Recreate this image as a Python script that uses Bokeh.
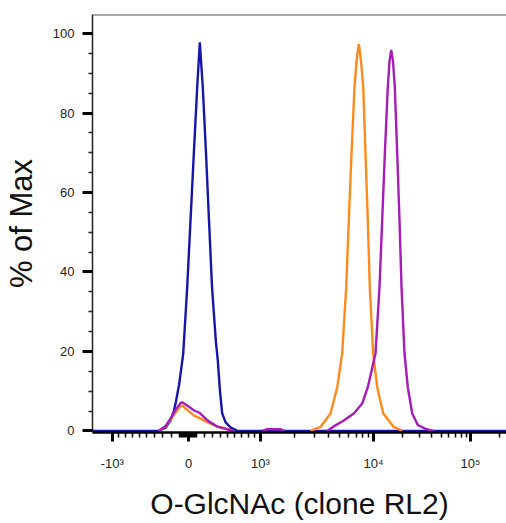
import numpy as np
from bokeh.plotting import figure
from bokeh.models import FixedTicker, Range1d, Span
from bokeh.embed import file_html
from bokeh.resources import INLINE

# ---------------- data (x in display channels of the biexponential axis, y in % of max) -------------
blue_ch = [0, 161.7, 178.8, 191.1, 199.2, 203.3, 211.9, 222.2, 232.0, 240.1, 248.2, 256.5, 262.9,
           270.2, 278.1, 285.4, 292.8, 302.6, 307.0, 312.3, 317.7, 325.8, 338.1, 354.5, 1024]
blue_pct = [0, 0, 0.8, 2.6, 5.0, 6.8, 11.5, 19.4, 36.2, 53.0, 69.8, 86.5, 97.8,
            86.5, 69.8, 53.0, 36.2, 22.0, 17.7, 10.0, 4.4, 2.2, 0.9, 0, 0]

orange_low_ch = [161.7, 178.8, 191.1, 207.5, 215.6, 219.7, 232.0, 248.2, 264.6, 281.0, 305.5, 330.0, 342.2]
orange_low_pct = [0, 1.2, 2.8, 5.2, 6.2, 6.4, 5.3, 3.9, 3.1, 2.2, 1.1, 0.5, 0]
orange_ch = [534.1, 558.6, 583.1, 599.5, 611.7, 621.5, 627.9, 634.5, 641.8, 646.7, 652.4, 657.8,
             663.2, 668.8, 674.4, 679.3, 687.6, 697.5, 712.2, 738.1, 758.7]
orange_pct = [0, 1.0, 4.4, 11.0, 19.5, 36.2, 53.0, 69.7, 86.5, 93.0, 97.4, 93.0,
              86.5, 69.7, 53.0, 36.2, 19.5, 11.0, 4.4, 1.0, 0]

purple_low_ch = [161.7, 178.8, 191.1, 203.3, 215.6, 219.7, 232.0, 248.2, 262.9, 272.7, 284.9, 305.5, 330.0, 345.4]
purple_low_pct = [0, 1.2, 3.1, 5.3, 7.0, 7.2, 6.4, 5.2, 4.5, 3.5, 2.4, 1.1, 0.4, 0]
purple_blip_ch = [416.5, 426.3, 460.6, 470.4]
purple_blip_pct = [0, 0.4, 0.4, 0]
purple_ch = [575.0, 595.3, 615.6, 640.1, 660.7, 674.4, 693.3, 703.1, 709.7, 716.1, 723.4, 727.6, 731.8,
             736.2, 740.6, 746.5, 752.1, 757.0, 764.3, 772.4, 783.2, 796.9, 815.8, 835.4]
purple_pct = [0, 1.4, 2.6, 4.4, 6.9, 11.0, 19.5, 36.2, 53.0, 69.7, 86.5, 93.0, 95.9,
              93.0, 86.5, 69.7, 53.0, 36.2, 19.5, 11.0, 4.4, 1.5, 0.5, 0]

y_major = [0, 20, 40, 60, 80, 100]
y_minor = [5, 10, 15, 25, 30, 35, 45, 50, 55, 65, 70, 75, 85, 90, 95]

x_major_values = [-1000, 0, 1000, 10000, 100000]
x_major_labels = ["-10\u00b3", "0", "10\u00b3", "10\u2074", "10\u2075"]
x_minor_values = ([-v for v in range(900, 0, -100)] + [-v for v in range(90, 0, -10)]
                  + list(range(10, 100, 10)) + list(range(100, 1000, 100))
                  + list(range(2000, 10000, 1000)) + list(range(20000, 100000, 10000)) + [200000])

x_title = "O-GlcNAc (clone RL2)"
y_title = "% of Max"

# ---------------- biexponential display transform (value -> channel) ----------------
ZERO_CH = 235.2
LIN_POS_CH = 176.4
LIN_NEG_CH = 186.9
DECADE_EXP = [3, 4, 5, 6]
DECADE_CH = [411.6, 688.4, 926.0, 1163.6]


def to_channel(v):
    v = float(v)
    if abs(v) <= 1000:
        f = np.arcsinh(abs(v) / 1000.0) / np.arcsinh(1.0)
        return round(ZERO_CH + (LIN_POS_CH if v >= 0 else -LIN_NEG_CH) * f, 3)
    if v > 0:
        return round(float(np.interp(np.log10(v), DECADE_EXP, DECADE_CH)), 3)
    return round(ZERO_CH - LIN_NEG_CH - (DECADE_CH[1] - DECADE_CH[0]) * np.log10(-v / 1000.0), 3)


major_ch = [to_channel(v) for v in x_major_values]
minor_ch = [to_channel(v) for v in x_minor_values]

FONT = "Liberation Sans"
Y0, Y1 = -0.4, 104.8

p = figure(width=506, height=523, output_backend="svg", toolbar_location=None,
           x_range=Range1d(0, 1014.2), y_range=Range1d(Y0, Y1),
           min_border_left=92, min_border_right=0, min_border_top=14, min_border_bottom=91)
p.outline_line_color = None
p.xgrid.visible = False
p.ygrid.visible = False
p.background_fill_color = "white"

lw = 2.4
p.line(blue_ch, blue_pct, line_color="#1515A8", line_width=lw)
p.line(orange_low_ch, orange_low_pct, line_color="#FF8A1C", line_width=lw)
p.line(orange_ch, orange_pct, line_color="#FF8A1C", line_width=lw)
p.line(purple_low_ch, purple_low_pct, line_color="#A51DB6", line_width=lw)
p.line(purple_blip_ch, purple_blip_pct, line_color="#A51DB6", line_width=lw)
p.line(purple_ch, purple_pct, line_color="#A51DB6", line_width=lw)

# top frame line
p.add_layout(Span(location=Y1, dimension="width", line_color="#555555", line_width=2))

# y axis
ya = p.yaxis[0]
ya.ticker = FixedTicker(ticks=y_major, minor_ticks=y_minor)
ya.axis_line_color = "#222222"
ya.axis_line_width = 1.5
ya.major_tick_out = 10
ya.major_tick_in = 0
ya.major_tick_line_width = 3
ya.major_tick_line_color = "black"
ya.minor_tick_out = 4
ya.minor_tick_in = 0
ya.minor_tick_line_width = 1.5
ya.minor_tick_line_color = "#222222"
ya.major_label_text_font = FONT
ya.major_label_text_font_size = "13px"
ya.major_label_text_color = "#222222"
ya.major_label_standoff = 8
ya.axis_label = y_title
ya.axis_label_text_font = FONT
ya.axis_label_text_font_size = "31px"
ya.axis_label_text_font_style = "normal"
ya.axis_label_text_color = "#111111"
ya.axis_label_standoff = 11

# x axis
xa = p.xaxis[0]
xa.ticker = FixedTicker(ticks=major_ch, minor_ticks=minor_ch)
xa.major_label_overrides = {c: t for c, t in zip(major_ch, x_major_labels)}
xa.axis_line_color = "black"
xa.axis_line_width = 2.5
xa.major_tick_out = 9
xa.major_tick_in = 0
xa.major_tick_line_width = 3
xa.major_tick_line_color = "black"
xa.minor_tick_out = 5
xa.minor_tick_in = 0
xa.minor_tick_line_width = 1.5
xa.minor_tick_line_color = "black"
xa.major_label_text_font = FONT
xa.major_label_text_font_size = "13px"
xa.major_label_text_color = "#222222"
xa.major_label_standoff = 14
xa.axis_label = x_title
xa.axis_label_text_font = FONT
xa.axis_label_text_font_size = "30px"
xa.axis_label_text_font_style = "normal"
xa.axis_label_text_color = "#111111"
xa.axis_label_standoff = 13

open("out.html", "w").write(file_html(p, INLINE))
